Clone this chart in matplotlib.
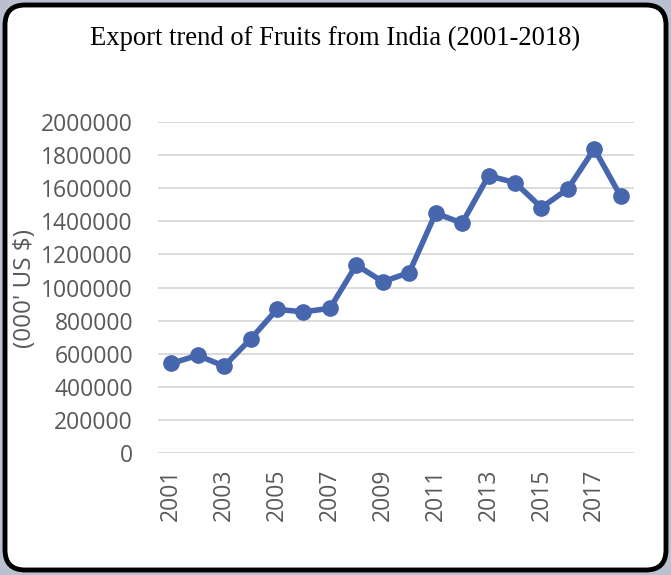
import matplotlib.pyplot as plt
from matplotlib.patches import FancyBboxPatch
import numpy as np

years = list(range(2001, 2019))
exports = [541000, 590000, 525000, 688000, 868000, 853000, 874000, 1136000, 1035000,
           1090000, 1449000, 1389000, 1675000, 1634000, 1483000, 1596000, 1838000, 1550000]
y_ticks = [0, 200000, 400000, 600000, 800000, 1000000, 1200000, 1400000, 1600000, 1800000, 2000000]
title = "Export trend of Fruits from India (2001-2018)"
ylabel = "(000' US $)"

W, H = 671, 575
fig = plt.figure(figsize=(W / 100, H / 100), dpi=100)
fig.patch.set_facecolor('#b9c1d0')

# rounded white chart box with black border
box = FancyBboxPatch((5 / W, 5 / H), 1 - 10 / W, 1 - 10 / H,
                     boxstyle="round,pad=0,rounding_size=0.03",
                     transform=fig.transFigure, facecolor='white',
                     edgecolor='black', linewidth=3.5, mutation_aspect=W / H,
                     zorder=-5)
fig.patches.append(box)

# plot area: x 158..634 px, y 122..453 px
ax = fig.add_axes([158 / W, 1 - 453 / H, (634 - 158) / W, (453 - 122) / H])
ax.set_zorder(2)
ax.set_facecolor('none')

x = np.arange(len(years))
ax.plot(x, exports, color='#4666ae', linewidth=4, marker='o', markersize=11,
        solid_capstyle='round', solid_joinstyle='round', zorder=3)

ax.set_xlim(-0.5, len(years) - 0.5)
ax.set_ylim(0, 2000000)
ax.set_yticks(y_ticks)
ax.set_yticklabels([str(v) for v in y_ticks], fontsize=16.5, color='#595959',
                   family='Open Sans')
ax.set_xticks(x[::2])
ax.set_xticklabels([str(y) for y in years[::2]], rotation=90, fontsize=16.5,
                   color='#595959', family='Open Sans')
ax.tick_params(axis='both', length=0)
ax.tick_params(axis='y', pad=18)
ax.tick_params(axis='x', pad=11)

ax.grid(axis='y', color='#d9d9d9', linewidth=1.3, zorder=0)
ax.set_axisbelow(True)
for s in ax.spines.values():
    s.set_visible(False)

fig.text(25 / W, 1 - 288 / H, ylabel, rotation=90, ha='center', va='center',
         fontsize=17.5, color='#595959', family='Open Sans')
fig.text(0.5, 1 - 38 / H, title, ha='center', va='center', fontsize=19.2,
         family='Liberation Serif', color='black')

fig.savefig('out.png', dpi=100, facecolor=fig.get_facecolor())
